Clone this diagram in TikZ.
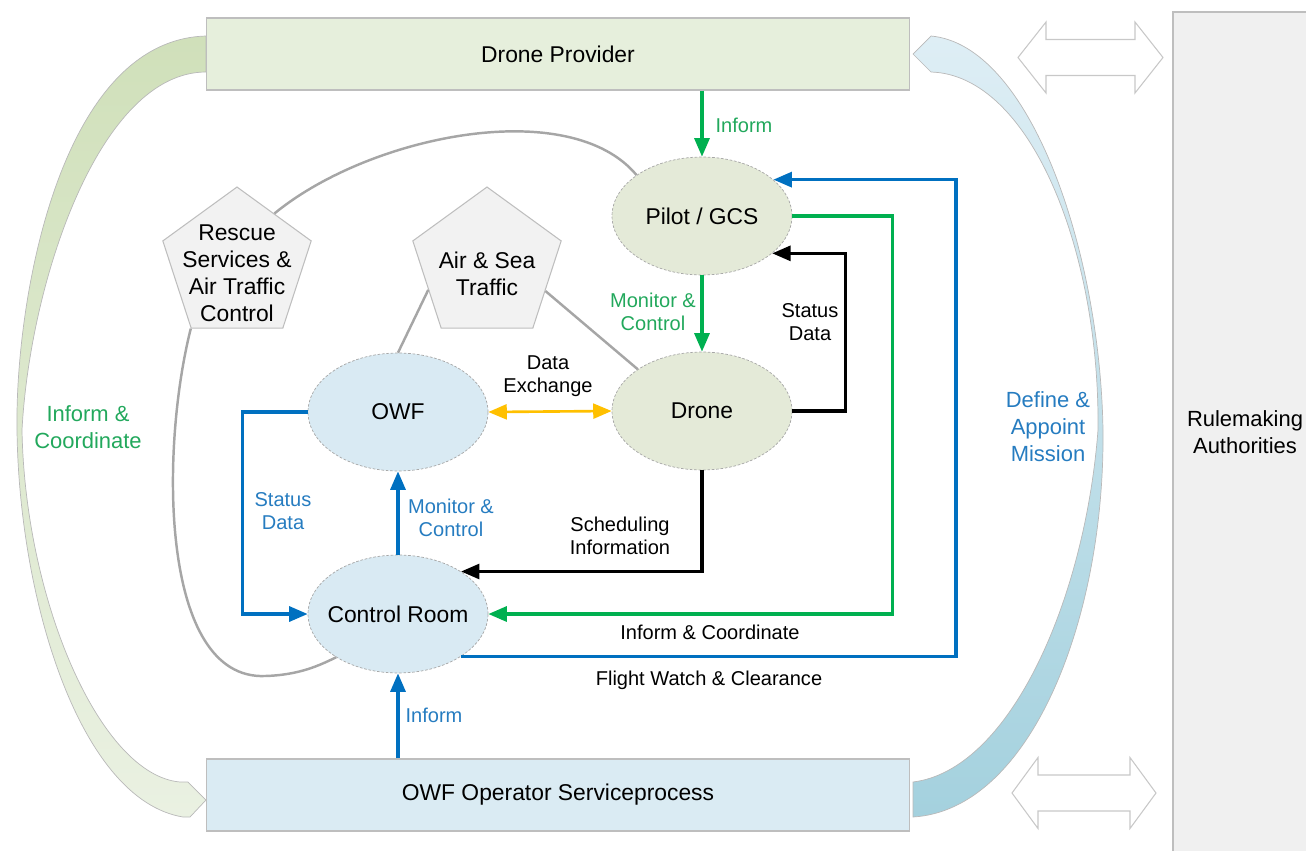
\documentclass[tikz,border=0pt]{standalone}
\usepackage{fontspec}
\setmainfont{Liberation Sans}
\usepackage{tikz}
\usetikzlibrary{arrows.meta,shapes.geometric,calc}
\definecolor{arrowgreen}{RGB}{0,176,80}
\definecolor{textgreen}{RGB}{34,168,92}
\definecolor{arrowblue}{RGB}{0,112,192}
\definecolor{textblue}{RGB}{38,124,192}
\definecolor{arrowyellow}{RGB}{255,192,0}
\definecolor{linkgray}{RGB}{166,166,166}
\definecolor{framegray}{RGB}{190,190,190}
\definecolor{hollowgray}{RGB}{200,200,200}
\definecolor{sage}{RGB}{228,234,216}
\definecolor{ice}{RGB}{217,234,243}
\definecolor{leafbox}{RGB}{230,239,220}
\definecolor{icebox}{RGB}{218,235,243}
\definecolor{leafdark}{RGB}{208,224,186}
\definecolor{leaflight}{RGB}{234,241,226}
\definecolor{skylight}{RGB}{222,238,245}
\definecolor{skydark}{RGB}{164,209,222}
\definecolor{pentafill}{RGB}{242,242,242}
\definecolor{authfill}{RGB}{240,240,240}
\newcommand{\nodetextfont}{\fontsize{13}{15.3}\selectfont}
\newcommand{\edgetextfont}{\fontsize{11.4}{13}\selectfont}
\newcommand{\sidetextfont}{\fontsize{12.5}{15.3}\selectfont}
\tikzstyle{actor}=[ellipse, draw=gray!70, line width=.4pt, dash pattern=on 1.5pt off 1pt, minimum width=3.6cm, minimum height=2.36cm, inner xsep=-6pt, inner ysep=0pt, font=\nodetextfont]
\tikzstyle{party}=[rectangle, draw=framegray, line width=.6pt, minimum width=14.08cm, minimum height=1.44cm, font=\nodetextfont]
\tikzstyle{penta}=[regular polygon, regular polygon sides=5, minimum size=3.12cm, inner sep=0pt, draw=framegray, fill=pentafill, line width=.6pt]
\tikzstyle{pentatext}=[align=center, font=\nodetextfont]
\tikzstyle{lbl}=[align=center, font=\edgetextfont]
\tikzstyle{sidelbl}=[align=center, font=\sidetextfont]
\tikzstyle{flow}=[line width=1.8pt, -{Triangle[length=10.5pt,width=8.5pt]}]
\tikzstyle{link}=[line width=1.4pt, linkgray]
\newcommand{\hollowArrow}[4]{
	\filldraw[fill=white, draw=hollowgray, line width=.6pt] (#1,#3) -- (#1+#4,#3-35.5) -- (#1+#4,#3-18) -- (#2-#4,#3-18) -- (#2-#4,#3-35.5) -- (#2,#3) -- (#2-#4,#3+35.5) -- (#2-#4,#3+18) -- (#1+#4,#3+18) -- (#1+#4,#3+35.5) -- cycle;
}
\begin{document}
\begin{tikzpicture}[x=0.02cm, y=-0.02cm]
	\useasboundingbox (0,0) rectangle (1306,850);
	\filldraw[fill=authfill, draw=framegray, line width=.6pt] (1173,12) rectangle (1340,880);
	\node[sidelbl] (rules) at (1245,432) {Rulemaking\\Authorities};
	\hollowArrow{1018}{1163}{57.5}{28}
	\hollowArrow{1012}{1156}{793}{26}
	% curved bands round the core
	\shade[top color=leafdark, bottom color=leaflight, draw=gray!55, line width=.4pt] (206,36) .. controls (60,40) and (15,300) .. (17,430) .. controls (19,600) and (80,800) .. (183,817) -- (190,817) -- (206,800) -- (188,782) -- (180,782) .. controls (100,775) and (25,600) .. (22,430) .. controls (30,280) and (100,72) .. (206,72) -- cycle;
	\shade[top color=skylight, bottom color=skydark, draw=gray!55, line width=.4pt] (913,54) -- (931,36) .. controls (1030,45) and (1100,250) .. (1103,430) .. controls (1105,620) and (1030,810) .. (913,817) -- (913,782) .. controls (1010,770) and (1085,600) .. (1098,430) .. controls (1100,250) and (1030,75) .. (931,72) -- cycle;
	\node[sidelbl, text=textgreen] (coordside) at (88,427) {Inform \&\\Coordinate};
	\node[sidelbl, text=textblue] (missionside) at (1048,427) {Define \&\\Appoint\\Mission};
	\node[party, fill=leafbox] (provider) at (558,54) {Drone Provider};
	\node[party, fill=icebox] (operator) at (558,795) {OWF Operator Serviceprocess};
	\node[penta] (rescue) at (237,265) {};
	\node[penta] (airsea) at (487,265) {};
	\node[pentatext] (rescuetxt) at (237,273) {Rescue\\Services \&\\Air Traffic\\Control};
	\node[pentatext] (airseatxt) at (487,274) {Air \& Sea\\Traffic};
	\node[actor, fill=sage] (pilot) at (702,216) {Pilot / GCS};
	\node[actor, fill=sage] (drone) at (702,411) {Drone};
	\node[actor, fill=ice] (owf) at (398,412) {OWF};
	\node[actor, fill=ice] (control) at (398,614) {Control Room};
	% grey links
	\draw[link] (rescue.54) .. controls (370,135) and (570,95) .. (pilot.148);
	\draw[link] (rescue.corner 3) .. controls (160,450) and (160,680) .. (265,676) .. controls (300,675) and (320,665) .. (control.215);
	\draw[link] (airsea.203) -- (owf.north);
	\draw[link] (airsea.-24) -- (drone.147);
	% flows
	\draw[flow, arrowgreen] (provider.south -| pilot.north) -- (pilot.north);
	\draw[flow, arrowgreen] (pilot.south) -- (drone.north);
	\draw[flow, arrowgreen] (pilot.east) -- ++(100,0) |- (control.east);
	\draw[flow] (drone.east) -- ++(53,0) |- (pilot.-28);
	\draw[flow] (drone.south) |- (control.34);
	\draw[flow, arrowblue] (control.-34) -| (956,180) |- (pilot.27);
	\draw[flow, arrowblue] (control.north) -- (owf.south);
	\draw[flow, arrowblue] (owf.west) -- ++(-65,0) |- (control.west);
	\draw[flow, arrowblue] (operator.north -| control.south) -- (control.south);
	\draw[flow, arrowyellow, line width=1.5pt, {Triangle[length=10.5pt,width=8.5pt]}-{Triangle[length=10.5pt,width=8.5pt]}] (owf.east) -- (drone.west);
	\node[lbl, text=textgreen] (informtop) at (744,125) {Inform};
	\node[lbl, text=textgreen] (mcgreen) at (653,312) {Monitor \&\\Control};
	\node[lbl] (statusblk) at (810,322) {Status\\Data};
	\node[lbl] (exchange) at (548,376) {Data\\Exchange};
	\node[lbl, text=textblue] (statusblue) at (283,511) {Status\\Data};
	\node[lbl, text=textblue] (mcblue) at (451,518) {Monitor \&\\Control};
	\node[lbl] (sched) at (620,536) {Scheduling\\Information};
	\node[lbl] (coordlow) at (710,632) {Inform \& Coordinate};
	\node[lbl] (watch) at (709,680) {Flight Watch \& Clearance};
	\node[lbl, text=textblue] (informlow) at (434,715) {Inform};
\end{tikzpicture}
\end{document}
